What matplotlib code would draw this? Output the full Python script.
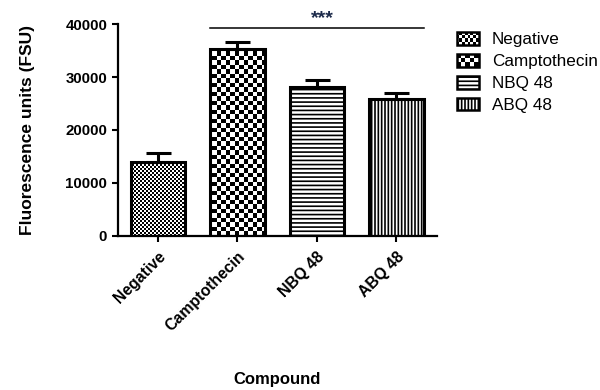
import numpy as np
import matplotlib.pyplot as plt
from matplotlib.patches import Patch, Rectangle
from matplotlib.legend_handler import HandlerBase

categories = ['Negative', 'Camptothecin', 'NBQ 48', 'ABQ 48']
means = [13900, 35300, 28100, 25900]
errors = [1800, 1250, 1300, 1050]
y_ticks = [0, 10000, 20000, 30000, 40000]
sig_label = '***'

plt.rcParams['font.family'] = ['Liberation Sans', 'DejaVu Sans']
plt.rcParams['hatch.linewidth'] = 1.2


class CheckerHandler(HandlerBase):
    # draws a small checkerboard box as a legend key
    def __init__(self, nx, ny):
        super().__init__()
        self.nx = nx
        self.ny = ny

    def create_artists(self, legend, orig_handle, xdescent, ydescent,
                       width, height, fontsize, trans):
        x0, y0 = -xdescent, -ydescent
        arts = [Rectangle((x0, y0), width, height, facecolor='white',
                          edgecolor='none', transform=trans)]
        cw, ch = width / self.nx, height / self.ny
        for i in range(self.nx):
            for j in range(self.ny):
                if (i + j) % 2 == 0:
                    arts.append(Rectangle((x0 + i * cw, y0 + j * ch), cw, ch,
                                          facecolor='black', edgecolor='none',
                                          transform=trans))
        arts.append(Rectangle((x0, y0), width, height, facecolor='none',
                              edgecolor='black', linewidth=1.8, transform=trans))
        return arts


def checker_image(ax, cell_px):
    # checkerboard in screen pixels covering the whole axes
    bb = ax.get_window_extent()
    k = 2
    w, h = int(round(bb.width * k)), int(round(bb.height * k))
    ii, jj = np.mgrid[0:h, 0:w]
    c = cell_px * k
    return ((np.floor(ii / c) + np.floor(jj / c)) % 2).astype(float)


fig = plt.figure(figsize=(6, 3.9), dpi=100)
ax = fig.add_axes([0.196, 0.396, 0.532, 0.542])

x = np.arange(len(categories))
width = 0.69
hatches = ['', '', '----', '|||||']
cells = [2, 4.5, None, None]

ax.set_xlim(-0.51, 3.51)
ax.set_ylim(0, 40000)

bars = ax.bar(x, means, width, facecolor='none', edgecolor='black',
              linewidth=2.2, zorder=3)
for b, h in zip(bars, hatches):
    if h:
        b.set_hatch(h)

ax.errorbar(x, means, yerr=[np.zeros(len(errors)), errors], fmt='none',
            ecolor='black', elinewidth=2.2, capsize=9, capthick=2.2, zorder=2)

for b, c in zip(bars, cells):
    if c is None:
        continue
    img = ax.imshow(checker_image(ax, c), cmap='gray', vmin=0, vmax=1,
                    extent=[-0.51, 3.51, 0, 40000], aspect='auto',
                    interpolation='nearest', origin='lower', zorder=1)
    img.set_clip_path(b)

ax.set_xlim(-0.51, 3.51)
ax.set_ylim(0, 40000)

# significance bar over the treated groups
x_left = x[1] - width / 2
x_right = x[3] + width / 2
ax.plot([x_left, x_right], [39200, 39200], color='black', lw=1.1,
        clip_on=False, zorder=4)
ax.text(2.07, 39500, sig_label, ha='center', va='bottom', fontsize=14,
        fontweight='bold', color='#1c2a4a')

ax.spines['top'].set_visible(False)
ax.spines['right'].set_visible(False)
ax.spines['left'].set_linewidth(1.6)
ax.spines['bottom'].set_linewidth(1.6)
ax.tick_params(width=1.5, length=4.5, labelsize=10.8)
ax.tick_params(axis='y', pad=3)
ax.tick_params(axis='x', labelsize=11.3, pad=5)
ax.set_yticks(y_ticks)
ax.set_yticklabels([str(v) for v in y_ticks], fontweight='bold')
ax.set_xticks(x, categories, rotation=45, ha='right', rotation_mode='anchor',
              fontweight='bold')

ax.set_ylabel('Fluorescence units (FSU)', fontsize=12.5, fontweight='bold')
ax.yaxis.set_label_coords(-0.258, 0.5)
ax.set_xlabel('Compound', fontsize=12, fontweight='bold')
ax.xaxis.set_label_coords(0.5, -0.645)

handles = [Patch(facecolor='white', edgecolor='black', hatch=h, linewidth=1.8)
           for h in hatches]
ax.legend(handles, categories,
          handler_map={handles[0]: CheckerHandler(8, 4),
                       handles[1]: CheckerHandler(5, 3)},
          loc='upper left', bbox_to_anchor=(0.761, 0.918),
          bbox_transform=fig.transFigure, frameon=False, fontsize=12.3,
          handlelength=1.29, handleheight=0.78, handletextpad=0.78,
          labelspacing=0.38, borderpad=0, borderaxespad=0)

fig.savefig('out.png', dpi=100)
